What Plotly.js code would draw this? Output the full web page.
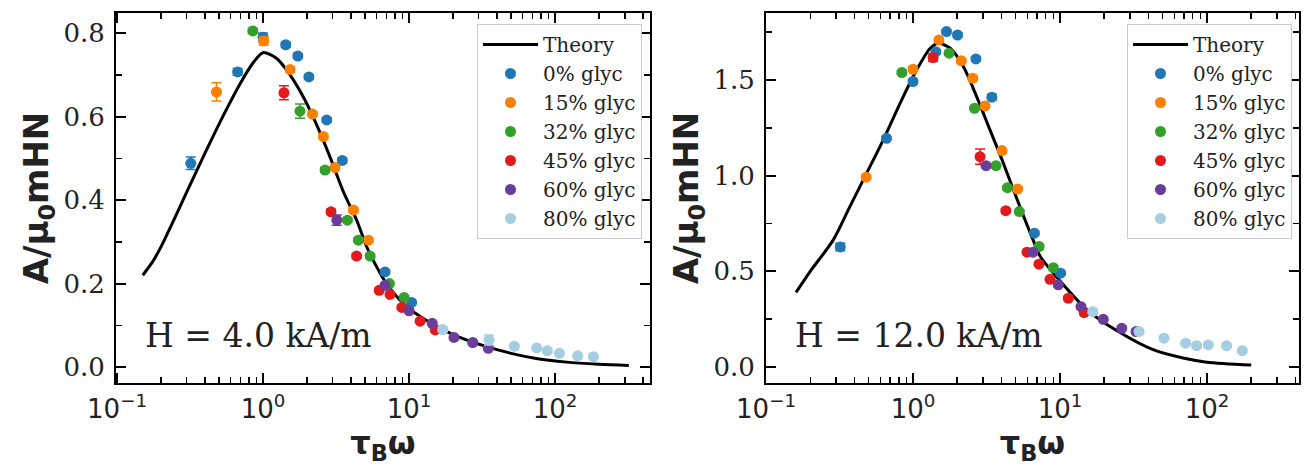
<!DOCTYPE html>
<html><head><meta charset="utf-8">
<script src="https://cdn.plot.ly/plotly-3.0.1.min.js"></script>
<style>html,body{margin:0;padding:0;background:#fff;}#chart{width:1307px;height:468px;}</style>
</head><body><div id="chart"></div>
<script>
// ---------- DATA ----------
const seriesNames = ["0% glyc","15% glyc","32% glyc","45% glyc","60% glyc","80% glyc"];
const seriesColors = ["#1f78b4","#ff7f00","#33a02c","#e31a1c","#6a3d9a","#a6cee3"];

// Left panel: H = 4.0 kA/m
const theoryL_x = [0.15,0.175,0.2,0.26,0.32,0.41,0.53,0.7,0.86,1.0,1.24,1.53,1.9,2.33,2.9,3.55,4.4,5.1,6.0,7.0,8.7,10,14.5,20,34,50,71,120,200,320];
const theoryL_y = [0.22,0.252,0.288,0.372,0.44,0.52,0.60,0.68,0.73,0.753,0.739,0.70,0.645,0.58,0.50,0.42,0.35,0.29,0.24,0.20,0.16,0.14,0.103,0.078,0.049,0.033,0.022,0.012,0.007,0.004];

const L0_x = [0.32,0.67,1.0,1.43,1.73,2.06,2.73,3.49,6.85,10.4];
const L0_y = [0.488,0.707,0.79,0.772,0.745,0.695,0.592,0.495,0.228,0.155];
const L0_e = [0.015,0.008,0.01,0.006,0.006,0.005,0.005,0.006,0.005,0.004];
const L1_x = [0.48,1.01,1.53,2.18,2.59,3.11,4.16,5.27];
const L1_y = [0.659,0.781,0.713,0.606,0.552,0.478,0.376,0.304];
const L1_e = [0.022,0.01,0.006,0.005,0.005,0.005,0.005,0.005];
const L2_x = [0.85,1.79,2.66,3.78,4.50,5.41,7.33,9.25];
const L2_y = [0.805,0.613,0.472,0.352,0.304,0.266,0.200,0.167];
const L2_e = [0.006,0.017,0.006,0.005,0.005,0.005,0.004,0.004];
const L3_x = [1.39,2.92,4.37,6.24,7.41,8.92,11.9,15.1];
const L3_y = [0.657,0.372,0.266,0.184,0.174,0.143,0.110,0.089];
const L3_e = [0.017,0.006,0.005,0.005,0.004,0.004,0.004,0.003];
const L4_x = [3.20,6.85,10.0,14.4,20.3,27.3,34.9];
const L4_y = [0.352,0.196,0.135,0.105,0.071,0.059,0.045];
const L4_e = [0.012,0.004,0.004,0.003,0.003,0.003,0.004];
const L5_x = [17.0,35.3,52.6,74.8,88.5,107,143,183];
const L5_y = [0.090,0.065,0.050,0.046,0.039,0.033,0.027,0.025];
const L5_e = [0.006,0.012,0.004,0.004,0.004,0.003,0.003,0.003];

// Right panel: H = 12.0 kA/m
const theoryR_x = [0.16,0.2,0.287,0.372,0.484,0.628,0.817,1.06,1.31,1.49,1.79,2.2,2.71,3.34,4.12,5.08,6.59,7.31,10,15.2,24.3,43,70,99.5,200];
const theoryR_y = [0.39,0.50,0.664,0.838,1.013,1.187,1.378,1.553,1.666,1.692,1.666,1.57,1.413,1.239,1.065,0.88,0.66,0.58,0.45,0.30,0.19,0.09,0.045,0.025,0.010];

const R0_x = [0.32,0.66,1.0,1.43,1.69,2.01,2.68,3.44,6.70,10.1];
const R0_y = [0.627,1.195,1.492,1.648,1.753,1.735,1.610,1.410,0.699,0.490];
const R0_e = [0.02,0.01,0.01,0.01,0.01,0.01,0.01,0.015,0.01,0.01];
const R1_x = [0.48,1.0,1.50,2.13,2.55,3.09,4.03,5.15];
const R1_y = [0.992,1.556,1.709,1.601,1.509,1.364,1.131,0.930];
const R1_e = [0.01,0.01,0.01,0.01,0.01,0.01,0.01,0.01];
const R2_x = [0.84,1.76,2.62,3.67,4.39,5.29,7.21,9.0];
const R2_y = [1.539,1.640,1.352,1.052,0.937,0.812,0.629,0.519];
const R2_e = [0.01,0.01,0.01,0.01,0.01,0.01,0.01,0.01];
const R3_x = [1.37,2.86,4.28,5.97,7.19,8.55,11.4,14.6];
const R3_y = [1.617,1.099,0.817,0.600,0.537,0.458,0.359,0.284];
const R3_e = [0.02,0.04,0.01,0.01,0.01,0.01,0.01,0.01];
const R4_x = [3.14,6.56,9.73,13.9,19.7,26.3,32.9];
const R4_y = [1.052,0.600,0.429,0.315,0.249,0.202,0.185];
const R4_e = [0.01,0.01,0.01,0.01,0.01,0.01,0.01];
const R5_x = [16.7,34.5,51,71.6,85,102,136,174];
const R5_y = [0.289,0.185,0.150,0.124,0.111,0.115,0.111,0.085];
const R5_e = [0.01,0.01,0.01,0.01,0.01,0.01,0.01,0.01];

const xTickVals = [0.1,1,10,100];
const xTickText = ["10<sup>\u22121</sup>","10<sup>0</sup>","10<sup>1</sup>","10<sup>2</sup>"];
const annotL = "H = 4.0 kA/m";
const annotR = "H = 12.0 kA/m";
// ---------- END DATA ----------

const W = 1307, H = 468;
const minorLog = [];
[0.1,1,10,100].forEach(d => { for (let k = 2; k <= 9; k++) minorLog.push(d*k); });

const leftSets = [[L0_x,L0_y,L0_e],[L1_x,L1_y,L1_e],[L2_x,L2_y,L2_e],[L3_x,L3_y,L3_e],[L4_x,L4_y,L4_e],[L5_x,L5_y,L5_e]];
const rightSets = [[R0_x,R0_y,R0_e],[R1_x,R1_y,R1_e],[R2_x,R2_y,R2_e],[R3_x,R3_y,R3_e],[R4_x,R4_y,R4_e],[R5_x,R5_y,R5_e]];

const traces = [];
function addPanel(tx, ty, sets, xa, ya, leg) {
  traces.push({x: tx, y: ty, mode: 'lines', name: 'Theory', xaxis: xa, yaxis: ya, legend: leg,
    line: {color: '#000', width: 3, shape: 'spline', smoothing: 0.8}});
  sets.forEach((s, i) => {
    traces.push({x: s[0], y: s[1], mode: 'markers', name: seriesNames[i], xaxis: xa, yaxis: ya, legend: leg,
      marker: {color: seriesColors[i], size: 11},
      error_y: {type: 'data', array: s[2], visible: true, color: seriesColors[i], thickness: 1.5, width: 5}});
  });
}
addPanel(theoryL_x, theoryL_y, leftSets, 'x', 'y', 'legend');
addPanel(theoryR_x, theoryR_y, rightSets, 'x2', 'y2', 'legend2');

const yDom = [1 - 383/H, 1 - 13/H];
function xAxis(dom, range, anchor) {
  return {type: 'log', domain: dom, range: range, anchor: anchor,
    showline: true, linecolor: '#000', linewidth: 2, mirror: 'allticks',
    ticks: 'inside', ticklen: 10, tickwidth: 2, tickcolor: '#000',
    tickmode: 'array', tickvals: xTickVals, ticktext: xTickText,
    tickfont: {family: 'DejaVu Sans', size: 26, color: '#222'}, ticklabelstandoff: 2,
    minor: {ticks: 'inside', ticklen: 6, tickwidth: 1.5, tickcolor: '#000', tickmode: 'array', tickvals: minorLog, showgrid: false},
    showgrid: false, zeroline: false,
    title: {text: '<b>\u03c4<sub>B</sub>\u03c9</b>', font: {family: 'DejaVu Sans', size: 32, color: '#222'}, standoff: 4}};
}
function yAxis(range, dtick, mdtick, anchor, fmt) {
  return {domain: yDom, range: range, anchor: anchor,
    showline: true, linecolor: '#000', linewidth: 2, mirror: 'allticks',
    ticks: 'inside', ticklen: 10, tickwidth: 2, tickcolor: '#000',
    dtick: dtick, tick0: 0, tickformat: fmt,
    tickfont: {family: 'DejaVu Serif', size: 26, color: '#222'}, ticklabelstandoff: 4,
    minor: {ticks: 'inside', ticklen: 6, tickwidth: 1.5, tickcolor: '#000', dtick: mdtick, tick0: 0, showgrid: false},
    showgrid: false, zeroline: false,
    title: {text: '<b>A/\u03bc<sub>0</sub>mHN</b>', font: {family: 'DejaVu Sans', size: 34, color: '#222'}, standoff: 5}};
}
function legendAt(xRight) {
  return {x: xRight/W, xanchor: 'right', y: 1 - 24/H, yanchor: 'top',
    bgcolor: 'rgba(255,255,255,0.9)', bordercolor: '#cccccc', borderwidth: 1,
    font: {family: 'DejaVu Serif', size: 20, color: '#222'}, tracegroupgap: 0,
    itemwidth: 55};
}

const layout = {
  width: W, height: H, margin: {l: 0, r: 0, t: 0, b: 0},
  paper_bgcolor: '#fff', plot_bgcolor: '#fff', showlegend: true,
  xaxis: xAxis([116/W, 650/W], [-1.007, 2.65], 'y'),
  yaxis: yAxis([-0.038, 0.848], 0.2, 0.1, 'x', '.1f'),
  xaxis2: xAxis([766/W, 1299/W], [-1.0, 2.626], 'y2'),
  yaxis2: yAxis([-0.084, 1.85], 0.5, 0.25, 'x2', '.1f'),
  legend: legendAt(642),
  legend2: legendAt(1292),
  annotations: [
    {text: annotL, xref: 'paper', yref: 'paper', x: 143/W, y: 1 - 335/H, xanchor: 'left', yanchor: 'middle', showarrow: false,
     font: {family: 'DejaVu Serif', size: 33, color: '#222'}},
    {text: annotR, xref: 'paper', yref: 'paper', x: 793/W, y: 1 - 335/H, xanchor: 'left', yanchor: 'middle', showarrow: false,
     font: {family: 'DejaVu Serif', size: 33, color: '#222'}}
  ]
};
Plotly.newPlot('chart', traces, layout, {displayModeBar: false, staticPlot: true});
</script></body></html>
